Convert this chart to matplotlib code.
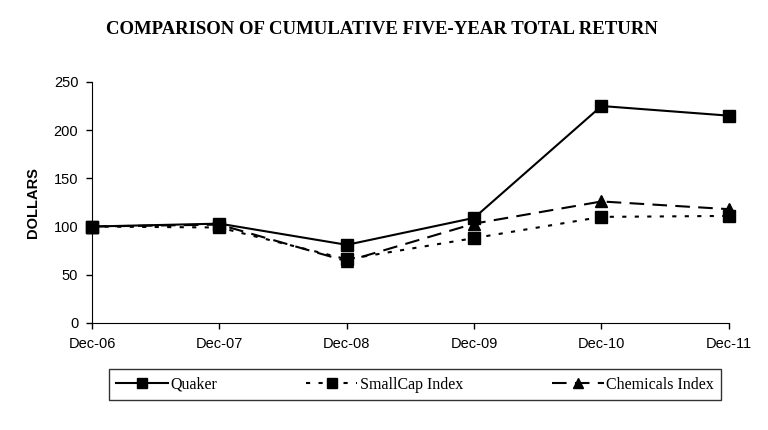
import matplotlib
matplotlib.use('Agg')
import matplotlib.pyplot as plt

years = ['Dec-06', 'Dec-07', 'Dec-08', 'Dec-09', 'Dec-10', 'Dec-11']
quaker = [100, 103, 81, 109, 225, 215]
smallcap = [100, 99, 66, 88, 110, 111]
chemicals = [100, 102, 64, 103, 126, 118]

fig = plt.figure(figsize=(7.68, 4.3), dpi=100)
ax = fig.add_axes([0.12, 0.249, 0.829, 0.5605])

x = range(len(years))
ax.plot(x, quaker, color='black', linewidth=1.5, marker='s', markersize=8,
        label='Quaker', clip_on=False, zorder=4)
ax.plot(x, smallcap, color='black', linewidth=1.5, linestyle=(0, (2, 4)), marker='s', markersize=8,
        label='SmallCap Index', clip_on=False, zorder=3)
ax.plot(x, chemicals, color='black', linewidth=1.5, linestyle=(0, (7, 4)), marker='^', markersize=8,
        label='Chemicals Index', clip_on=False, zorder=3)

ax.set_xlim(0, len(years) - 1)
ax.set_ylim(0, 250)
ax.set_yticks(range(0, 251, 50))
ax.set_xticks(list(x))
ax.set_xticklabels(years, family='Liberation Sans', fontsize=10.5)
for lab in ax.get_yticklabels():
    lab.set_family('Liberation Sans')
    lab.set_fontsize(10.5)
ax.spines['top'].set_visible(False)
ax.spines['right'].set_visible(False)
ax.tick_params(direction='out', length=4, width=1, pad=6)
ax.set_ylabel('DOLLARS', family='Liberation Sans', fontweight='bold', fontsize=10.5, labelpad=10)

fig.text(0.497, 0.932, 'COMPARISON OF CUMULATIVE FIVE-YEAR TOTAL RETURN', ha='center', va='center',
         family='Liberation Serif', fontweight='bold', fontsize=13.5)

leg = fig.legend(loc='center', bbox_to_anchor=(0.5405, 0.1055), ncol=3,
                 prop={'family': 'Liberation Serif', 'size': 11.5}, frameon=True, fancybox=False,
                 edgecolor='black', handlelength=3.2, handletextpad=0.15, columnspacing=5.6,
                 borderpad=0.45, borderaxespad=0, markerscale=0.85)
leg.get_frame().set_linewidth(1)

fig.savefig('out.png', dpi=100)
